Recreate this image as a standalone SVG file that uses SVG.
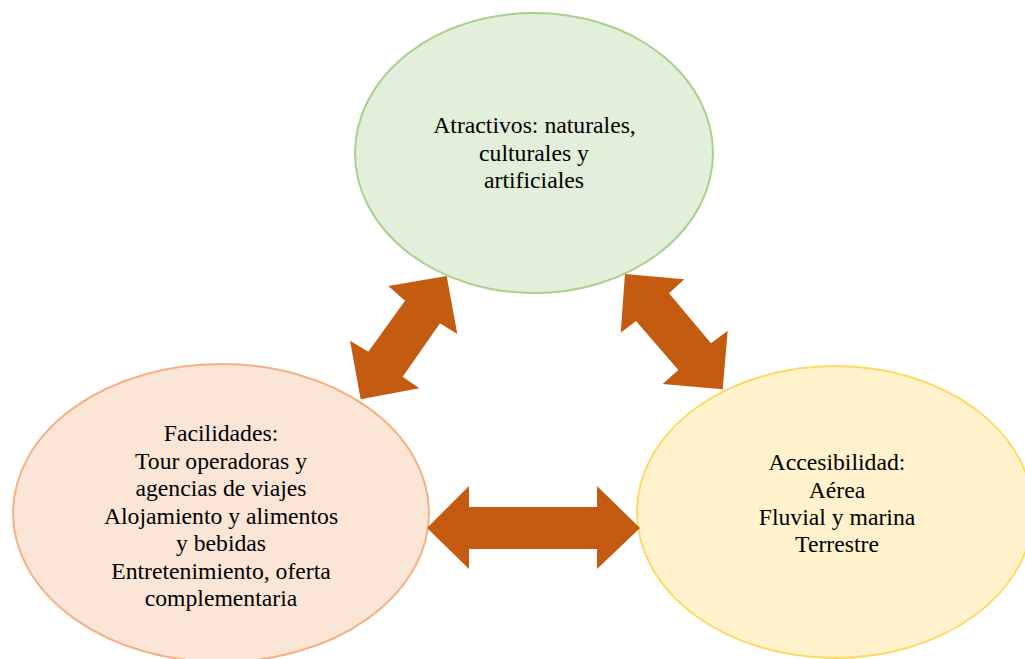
<svg xmlns="http://www.w3.org/2000/svg" width="1025" height="659" viewBox="0 0 1025 659">
<style>
.t{font-family:"Liberation Serif","Times New Roman",serif;font-size:23.7px;fill:#000;text-anchor:middle}
.arr{fill:#C55A11;stroke:none}
</style>
<rect width="1025" height="659" fill="#fff"/>
<g id="node-atractivos">
<ellipse cx="534" cy="153" rx="179" ry="140" fill="#E2EFDA" stroke="#A9D18E" stroke-width="2"/>
<text class="t" x="534.5" y="133">Atractivos: naturales,</text>
<text class="t" x="534" y="161">culturales y</text>
<text class="t" x="534" y="188">artificiales</text>
</g>
<g id="node-facilidades">
<ellipse cx="221" cy="513" rx="208" ry="149" fill="#FBE5D6" stroke="#F4B183" stroke-width="2"/>
<text class="t" x="221" y="441">Facilidades:</text>
<text class="t" x="221" y="468.5">Tour operadoras y</text>
<text class="t" x="221" y="496">agencias de viajes</text>
<text class="t" x="221" y="523.5">Alojamiento y alimentos</text>
<text class="t" x="221" y="551">y bebidas</text>
<text class="t" x="221" y="579">Entretenimiento, oferta</text>
<text class="t" x="221" y="606">complementaria</text>
</g>
<g id="node-accesibilidad">
<ellipse cx="835" cy="512" rx="198" ry="146" fill="#FFF2CC" stroke="#FFD966" stroke-width="2"/>
<text class="t" x="837" y="470">Accesibilidad:</text>
<text class="t" x="837" y="497.5">Aérea</text>
<text class="t" x="837" y="525">Fluvial y marina</text>
<text class="t" x="837" y="552">Terrestre</text>
</g>
<g id="connectors">
<polygon class="arr" points="446.7,276 457.3,334 440,323.3 402.7,376.7 419.3,388.3 360.7,399.3 350,340.7 368.3,351.7 405,300.7 388.3,286"/>
<polygon class="arr" points="625,274 684.3,279.3 669,293.3 711,343.3 727.7,330.7 722.7,389.3 662.7,384 678.3,370 636,321 620.7,332.7"/>
<polygon class="arr" points="427,528 469,486 469,507 597,507 597,486 640,528 597,569 597,549 469,549 469,569"/>
</g>
</svg>
